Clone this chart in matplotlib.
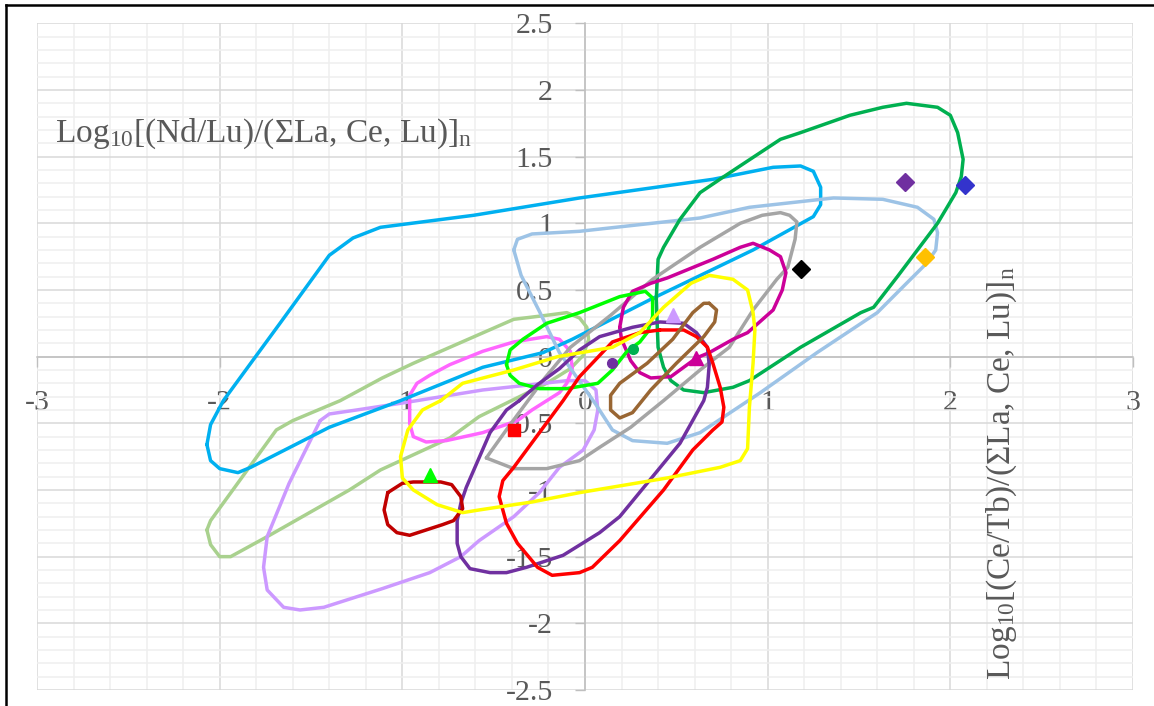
import matplotlib
matplotlib.use('Agg')
import matplotlib.pyplot as plt
from matplotlib.lines import Line2D
from matplotlib.ticker import MultipleLocator

plt.rcParams['font.family'] = ['Liberation Serif', 'DejaVu Serif']
plt.rcParams['mathtext.fontset'] = 'custom'
plt.rcParams['mathtext.rm'] = 'Liberation Serif'
plt.rcParams['mathtext.default'] = 'rm'
plt.rcParams['axes.unicode_minus'] = False

# field outlines, (x, y) in log units
sky_field = [(-2.07, -0.66), (-2.05, -0.78), (-2.00, -0.84), (-1.90, -0.87), (-1.83, -0.83),
             (-1.40, -0.53), (-1.01, -0.33), (-0.56, -0.08), (-0.23, 0.03), (-0.07, 0.13),
             (0.36, 0.43), (0.92, 0.80), (1.25, 1.05), (1.29, 1.14), (1.29, 1.27), (1.25, 1.39),
             (1.18, 1.43), (1.03, 1.42), (0.70, 1.33), (-0.03, 1.19), (-0.61, 1.06), (-1.12, 0.97),
             (-1.27, 0.89), (-1.40, 0.76), (-1.67, 0.25), (-1.98, -0.33), (-2.05, -0.51)]
pale_blue_field = [(-0.39, 0.80), (-0.37, 0.88), (-0.29, 0.92), (-0.03, 0.94), (0.63, 1.04),
                   (0.90, 1.12), (1.36, 1.19), (1.63, 1.18), (1.82, 1.12), (1.91, 1.03),
                   (1.93, 0.93), (1.92, 0.80), (1.87, 0.70), (1.76, 0.55), (1.60, 0.33),
                   (1.27, 0.03), (0.96, -0.27), (0.63, -0.57), (0.45, -0.65), (0.26, -0.63),
                   (0.15, -0.55), (0.06, -0.36), (-0.14, 0.03), (-0.25, 0.34), (-0.35, 0.61)]
green_field = [(0.39, 0.43), (0.40, 0.73), (0.43, 0.82), (0.52, 1.03), (0.63, 1.23), (0.76, 1.35),
               (1.07, 1.63), (1.18, 1.68), (1.45, 1.81), (1.63, 1.87), (1.76, 1.90), (1.93, 1.87),
               (2.00, 1.81), (2.04, 1.68), (2.07, 1.48), (2.06, 1.35), (2.03, 1.23), (1.93, 1.00),
               (1.82, 0.80), (1.71, 0.60), (1.58, 0.37), (1.51, 0.33), (1.18, 0.07), (0.90, -0.18),
               (0.81, -0.23), (0.65, -0.27), (0.54, -0.25), (0.47, -0.18), (0.43, -0.08), (0.40, 0.07)]
gray_field = [(-0.54, -0.76), (-0.39, -0.84), (-0.21, -0.84), (-0.03, -0.78), (0.08, -0.68),
              (0.25, -0.53), (0.43, -0.33), (0.63, -0.10), (0.79, 0.07), (0.92, 0.35), (1.05, 0.58),
              (1.11, 0.67), (1.15, 0.88), (1.16, 1.01), (1.12, 1.06), (1.07, 1.08), (0.97, 1.06),
              (0.85, 1.00), (0.63, 0.82), (0.37, 0.58), (0.14, 0.31), (-0.08, 0.07), (-0.22, -0.16),
              (-0.41, -0.51), (-0.52, -0.72)]
magenta_field = [(0.19, 0.22), (0.21, 0.37), (0.26, 0.49), (0.36, 0.55), (0.45, 0.59), (0.70, 0.73),
                 (0.85, 0.82), (0.92, 0.85), (1.01, 0.80), (1.07, 0.75), (1.10, 0.63), (1.08, 0.50),
                 (1.03, 0.35), (0.89, 0.18), (0.81, 0.13), (0.68, 0.03), (0.61, -0.01), (0.47, -0.15),
                 (0.36, -0.16), (0.30, -0.12), (0.25, -0.03), (0.20, 0.13)]
yellow_field = [(-0.79, -0.33), (-0.67, -0.20), (-0.39, -0.10), (-0.15, 0.00), (0.15, 0.07),
                (0.30, 0.18), (0.43, 0.37), (0.58, 0.55), (0.68, 0.61), (0.81, 0.58), (0.89, 0.50),
                (0.92, 0.33), (0.93, 0.20), (0.92, -0.05), (0.90, -0.38), (0.89, -0.69), (0.85, -0.78),
                (0.74, -0.83), (0.45, -0.91), (-0.03, -1.02), (-0.29, -1.09), (-0.58, -1.15),
                (-0.67, -1.17), (-0.81, -1.11), (-0.94, -1.00), (-1.00, -0.91), (-1.01, -0.75),
                (-0.97, -0.55), (-0.89, -0.40)]
brown_field = [(0.68, 0.40), (0.72, 0.35), (0.71, 0.26), (0.65, 0.15), (0.50, -0.05), (0.36, -0.25),
               (0.26, -0.42), (0.19, -0.46), (0.14, -0.40), (0.14, -0.29), (0.19, -0.20),
               (0.34, -0.05), (0.48, 0.13), (0.59, 0.33), (0.65, 0.40)]
red_field = [(0.41, 0.20), (0.54, 0.20), (0.61, 0.15), (0.67, 0.07), (0.70, -0.05), (0.74, -0.23),
             (0.76, -0.38), (0.75, -0.49), (0.70, -0.55), (0.59, -0.70), (0.43, -1.00), (0.19, -1.38),
             (0.04, -1.58), (-0.03, -1.62), (-0.18, -1.64), (-0.26, -1.58), (-0.37, -1.40),
             (-0.43, -1.25), (-0.47, -1.05), (-0.45, -0.93), (-0.39, -0.83), (-0.12, -0.33),
             (-0.03, -0.15), (0.15, 0.11), (0.30, 0.18)]
purple_field = [(-0.36, -0.33), (-0.26, -0.21), (-0.14, -0.09), (-0.03, 0.05), (0.08, 0.15),
                (0.26, 0.22), (0.41, 0.26), (0.54, 0.25), (0.61, 0.18), (0.67, 0.07), (0.68, -0.06),
                (0.67, -0.23), (0.65, -0.33), (0.52, -0.65), (0.34, -0.95), (0.19, -1.20),
                (0.08, -1.32), (-0.12, -1.49), (-0.32, -1.58), (-0.43, -1.62), (-0.52, -1.62),
                (-0.63, -1.59), (-0.68, -1.50), (-0.70, -1.40), (-0.70, -1.23), (-0.68, -1.10),
                (-0.65, -0.98), (-0.52, -0.57), (-0.43, -0.40)]
lime_field = [(-0.43, -0.06), (-0.41, 0.05), (-0.34, 0.13), (-0.21, 0.25), (-0.03, 0.33), (0.19, 0.45),
              (0.33, 0.49), (0.37, 0.44), (0.37, 0.30), (0.34, 0.18), (0.30, 0.11), (0.23, 0.04),
              (0.15, -0.10), (0.07, -0.20), (-0.10, -0.24), (-0.25, -0.24), (-0.36, -0.20),
              (-0.41, -0.14)]
sage_field = [(-2.07, -1.30), (-2.05, -1.41), (-2.00, -1.50), (-1.94, -1.50), (-1.74, -1.35),
              (-1.29, -1.00), (-1.12, -0.85), (-0.74, -0.61), (-0.58, -0.45), (-0.21, -0.20),
              (-0.08, -0.09), (-0.01, 0.01), (0.02, 0.13), (0.01, 0.22), (-0.03, 0.29), (-0.10, 0.33),
              (-0.21, 0.31), (-0.39, 0.28), (-0.94, -0.05), (-1.11, -0.16), (-1.34, -0.33),
              (-1.60, -0.48), (-1.69, -0.55), (-2.05, -1.23)]
pink_field = [(-0.96, -0.29), (-0.92, -0.20), (-0.85, -0.14), (-0.74, -0.06), (-0.56, 0.04),
              (-0.39, 0.11), (-0.21, 0.15), (-0.14, 0.13), (-0.08, 0.04), (-0.07, -0.09),
              (-0.10, -0.20), (-0.14, -0.27), (-0.29, -0.40), (-0.37, -0.48), (-0.56, -0.57),
              (-0.76, -0.63), (-0.87, -0.64), (-0.94, -0.60), (-0.96, -0.50)]
lilac_field = [(-1.45, -0.48), (-1.40, -0.43), (-1.25, -0.40), (-1.01, -0.35), (-0.74, -0.29),
               (-0.56, -0.25), (-0.29, -0.21), (-0.10, -0.18), (0.00, -0.18), (0.06, -0.25),
               (0.07, -0.40), (0.05, -0.55), (-0.01, -0.70), (-0.14, -0.83), (-0.25, -1.02),
               (-0.39, -1.20), (-0.58, -1.38), (-0.68, -1.50), (-0.85, -1.62), (-1.11, -1.74),
               (-1.43, -1.88), (-1.56, -1.90), (-1.65, -1.88), (-1.74, -1.75), (-1.76, -1.58),
               (-1.74, -1.35), (-1.62, -0.95)]
darkred_field = [(-1.08, -1.02), (-1.00, -0.95), (-0.94, -0.94), (-0.79, -0.94), (-0.73, -0.96),
                 (-0.68, -1.05), (-0.67, -1.14), (-0.72, -1.23), (-0.78, -1.26), (-0.87, -1.30),
                 (-0.96, -1.34), (-1.03, -1.32), (-1.08, -1.26), (-1.10, -1.15)]

fields = [
    (sage_field, '#a9d18e'),
    (lilac_field, '#cc99ff'),
    (pink_field, '#ff66ff'),
    (sky_field, '#00b0f0'),
    (pale_blue_field, '#9dc3e6'),
    (green_field, '#00b050'),
    (gray_field, '#a5a5a5'),
    (magenta_field, '#cc0099'),
    (lime_field, '#00ff00'),
    (purple_field, '#7030a0'),
    (red_field, '#ff0000'),
    (brown_field, '#996633'),
    (darkred_field, '#c00000'),
    (yellow_field, '#ffff00'),
]

# single samples
diamond_x = [1.75, 2.08, 1.86, 1.18]
diamond_y = [1.31, 1.29, 0.75, 0.66]
diamond_colors = ['#7030a0', '#3333cc', '#ffc000', '#000000']
square_x, square_y = [-0.39], [-0.55]
triangle_x = [-0.85, 0.48, 0.61]
triangle_y = [-0.89, 0.31, -0.01]
triangle_colors = ['#00ff00', '#cc99ff', '#cc0099']
dot_x = [0.15, 0.26]
dot_y = [-0.05, 0.06]
dot_colors = ['#7030a0', '#00b050']

x_ticks = [-3, -2, -1, 0, 1, 2, 3]
y_ticks = [-2.5, -2, -1.5, -1, -0.5, 0, 0.5, 1, 1.5, 2, 2.5]
y_ticklabels = ['-2.5', '-2', '-1.5', '-1', '-0.5', '0', '0.5', '1', '1.5', '2', '2.5']

fig = plt.figure(figsize=(11.54, 7.06), dpi=100)
ax = fig.add_axes([0.0321, 0.0227, 0.9497, 0.9443])
ax.set_xlim(-3, 3)
ax.set_ylim(-2.5, 2.5)

ax.set_xticks(x_ticks)
ax.set_xticklabels([str(t) for t in x_ticks])
ax.set_yticks(y_ticks)
ax.set_yticklabels(y_ticklabels)
ax.xaxis.set_minor_locator(MultipleLocator(0.2))
ax.yaxis.set_minor_locator(MultipleLocator(0.1))
ax.set_axisbelow(True)
ax.grid(which='major', color='#d9d9d9', lw=1.1)
ax.grid(which='minor', color='#efefef', lw=1.1)
ax.tick_params(which='minor', length=0)
ax.tick_params(axis='x', which='major', direction='out', length=7, width=1,
               color='#bfbfbf', labelcolor='#595959', labelsize=21.5, pad=17)
ax.tick_params(axis='y', which='major', direction='out', length=7, width=1,
               color='#bfbfbf', labelcolor='#595959', labelsize=21.5, pad=16)

for side in ['top', 'right']:
    ax.spines[side].set_visible(False)
for side in ['left', 'bottom']:
    ax.spines[side].set_position('zero')
    ax.spines[side].set_color('#bfbfbf')
    ax.spines[side].set_linewidth(1.1)
    ax.spines[side].set_zorder(1)

for pts, col in fields:
    xs = [p[0] for p in pts] + [pts[0][0]]
    ys = [p[1] for p in pts] + [pts[0][1]]
    ax.plot(xs, ys, color=col, lw=2.5, solid_joinstyle='round', solid_capstyle='round', zorder=3)

for x, y, c in zip(diamond_x, diamond_y, diamond_colors):
    ax.plot(x, y, marker='D', ms=9.5, color=c, mec=c, ls='none', zorder=5)
ax.plot(square_x, square_y, marker='s', ms=8.5, color='#ff0000', ls='none', zorder=5)
for x, y, c in zip(triangle_x, triangle_y, triangle_colors):
    ax.plot(x, y, marker='^', ms=10, color=c, ls='none', zorder=5)
for x, y, c in zip(dot_x, dot_y, dot_colors):
    ax.plot(x, y, marker='o', ms=7, color=c, ls='none', zorder=5)

ax.text(-2.9, 1.61, 'Log$_{10}$[(Nd/Lu)/(ΣLa, Ce, Lu)]$_{n}$', fontsize=24, color='#595959',
        ha='left', va='baseline')
ax.text(2.326, -2.425, 'Log$_{10}$[(Ce/Tb)/(ΣLa, Ce, Lu)]$_{n}$', fontsize=24, color='#595959',
        ha='left', va='baseline', rotation=90, rotation_mode='anchor')

# black frame along the top and left edges
fig.add_artist(Line2D([0.0056, 0.0056], [-0.01, 0.9929], color='black', lw=1.8,
                      transform=fig.transFigure))
fig.add_artist(Line2D([0.0056, 1.01], [0.9929, 0.9929], color='black', lw=1.8,
                      transform=fig.transFigure))

fig.savefig('out.png', dpi=100)
